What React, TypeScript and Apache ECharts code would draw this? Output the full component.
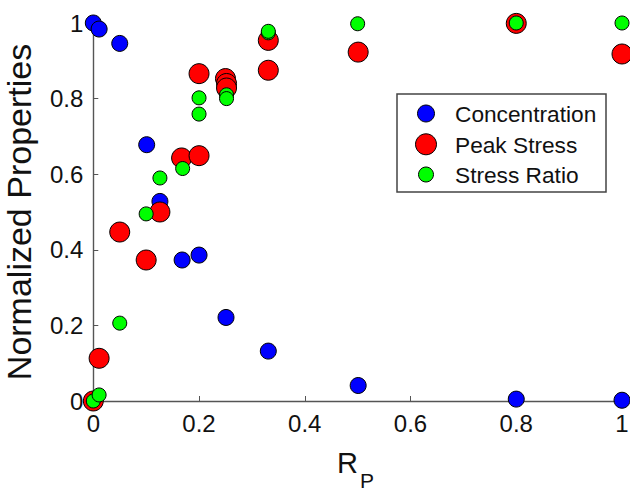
import React, { useEffect, useRef } from "react";
import * as echarts from "echarts";

const FONT = "'Liberation Sans', Arial, sans-serif";

const seriesNames = ["Concentration", "Peak Stress", "Stress Ratio"];

const concentrationX = [0, 0.011, 0.05, 0.101, 0.126, 0.168, 0.2, 0.251, 0.331, 0.501, 0.8, 1.0];
const concentrationY = [1.0, 0.984, 0.946, 0.678, 0.528, 0.373, 0.386, 0.221, 0.132, 0.041, 0.005, 0.002];

const peakX = [0, 0.011, 0.05, 0.1, 0.126, 0.167, 0.2, 0.2, 0.25, 0.252, 0.252, 0.331, 0.331, 0.501, 0.8, 1.0];
const peakY = [0, 0.113, 0.447, 0.373, 0.5, 0.643, 0.649, 0.866, 0.853, 0.84, 0.828, 0.954, 0.875, 0.923, 0.999, 0.918];

const ratioX = [0, 0.011, 0.05, 0.1, 0.126, 0.169, 0.2, 0.2, 0.252, 0.252, 0.331, 0.331, 0.5, 0.8, 1.0];
const ratioY = [0, 0.016, 0.206, 0.495, 0.59, 0.615, 0.802, 0.759, 0.81, 0.8, 0.974, 0.978, 0.998, 1.0, 1.0];

const colors = ["#0000ff", "#ff0000", "#00ff00"];
const sizes = [16, 20, 14];

const zip = (xs: number[], ys: number[]) => xs.map((x, i) => [x, ys[i]]);

export default function App() {
  const ref = useRef<HTMLDivElement>(null);
  useEffect(() => {
    if (!ref.current) return;
    const chart = echarts.init(ref.current, null, { renderer: "svg" });
    const data = [zip(concentrationX, concentrationY), zip(peakX, peakY), zip(ratioX, ratioY)];

    const legendRows = [113.5, 144.3, 174.5];
    const legendGraphics: any[] = [
      {
        type: "rect",
        shape: { x: 397, y: 94, width: 209, height: 98 },
        style: { fill: "#fff", stroke: "#444", lineWidth: 1.5 },
        z: 100,
      },
    ];
    seriesNames.forEach((name, i) => {
      legendGraphics.push({
        type: "circle",
        shape: { cx: 426, cy: legendRows[i], r: sizes[i] / 2 + 0.5 },
        style: { fill: colors[i], stroke: "#000", lineWidth: 1 },
        z: 101,
      });
      legendGraphics.push({
        type: "text",
        x: 455,
        y: legendRows[i] + 0.5,
        style: {
          text: name,
          font: `22.7px ${FONT}`,
          fill: "#111",
          textAlign: "left",
          textVerticalAlign: "middle",
        },
        z: 101,
      });
    });

    chart.setOption({
      animation: false,
      backgroundColor: "#ffffff",
      textStyle: { fontFamily: FONT },
      grid: { left: 93.3, right: 8, top: 23, bottom: 90, containLabel: false, outerBoundsMode: "none" },
      xAxis: {
        type: "value",
        min: 0,
        max: 1,
        interval: 0.2,
        axisLine: { show: true, onZero: false, lineStyle: { color: "#555", width: 1.4 } },
        axisTick: { show: true, inside: true, length: 5, lineStyle: { color: "#555", width: 1 } },
        axisLabel: { fontSize: 24, color: "#111", fontFamily: FONT, margin: 10 },
        splitLine: { show: false },
      },
      yAxis: {
        type: "value",
        min: 0,
        max: 1,
        interval: 0.2,
        name: "Normalized Properties",
        nameLocation: "middle",
        nameRotate: 90,
        nameGap: 57,
        nameTextStyle: { fontSize: 34, color: "#111", fontFamily: FONT, padding: [0, 0, 0, 0] },
        axisLine: { show: true, onZero: false, lineStyle: { color: "#555", width: 1.4 } },
        axisTick: { show: true, inside: true, length: 5, lineStyle: { color: "#555", width: 1 } },
        axisLabel: { fontSize: 24, color: "#111", fontFamily: FONT, margin: 10 },
        splitLine: { show: false },
      },
      graphic: [
        {
          type: "text",
          x: 337,
          y: 463,
          style: { text: "R", font: `29px ${FONT}`, fill: "#111", textAlign: "left", textVerticalAlign: "middle" },
        },
        {
          type: "text",
          x: 360,
          y: 480,
          style: { text: "P", font: `21px ${FONT}`, fill: "#111", textAlign: "left", textVerticalAlign: "middle" },
        },
        ...legendGraphics,
      ],
      series: seriesNames.map((name, i) => ({
        name,
        type: "scatter",
        data: data[i],
        symbol: "circle",
        symbolSize: sizes[i],
        clip: false,
        z: 2 + i,
        itemStyle: { color: colors[i], borderColor: "#000", borderWidth: 1, opacity: 1 },
        emphasis: { disabled: true },
      })),
    });
    return () => chart.dispose();
  }, []);
  return (
    <div
      ref={ref}
      style={{ position: "fixed", left: 0, top: 0, width: 630, height: 491, background: "#fff" }}
    />
  );
}
